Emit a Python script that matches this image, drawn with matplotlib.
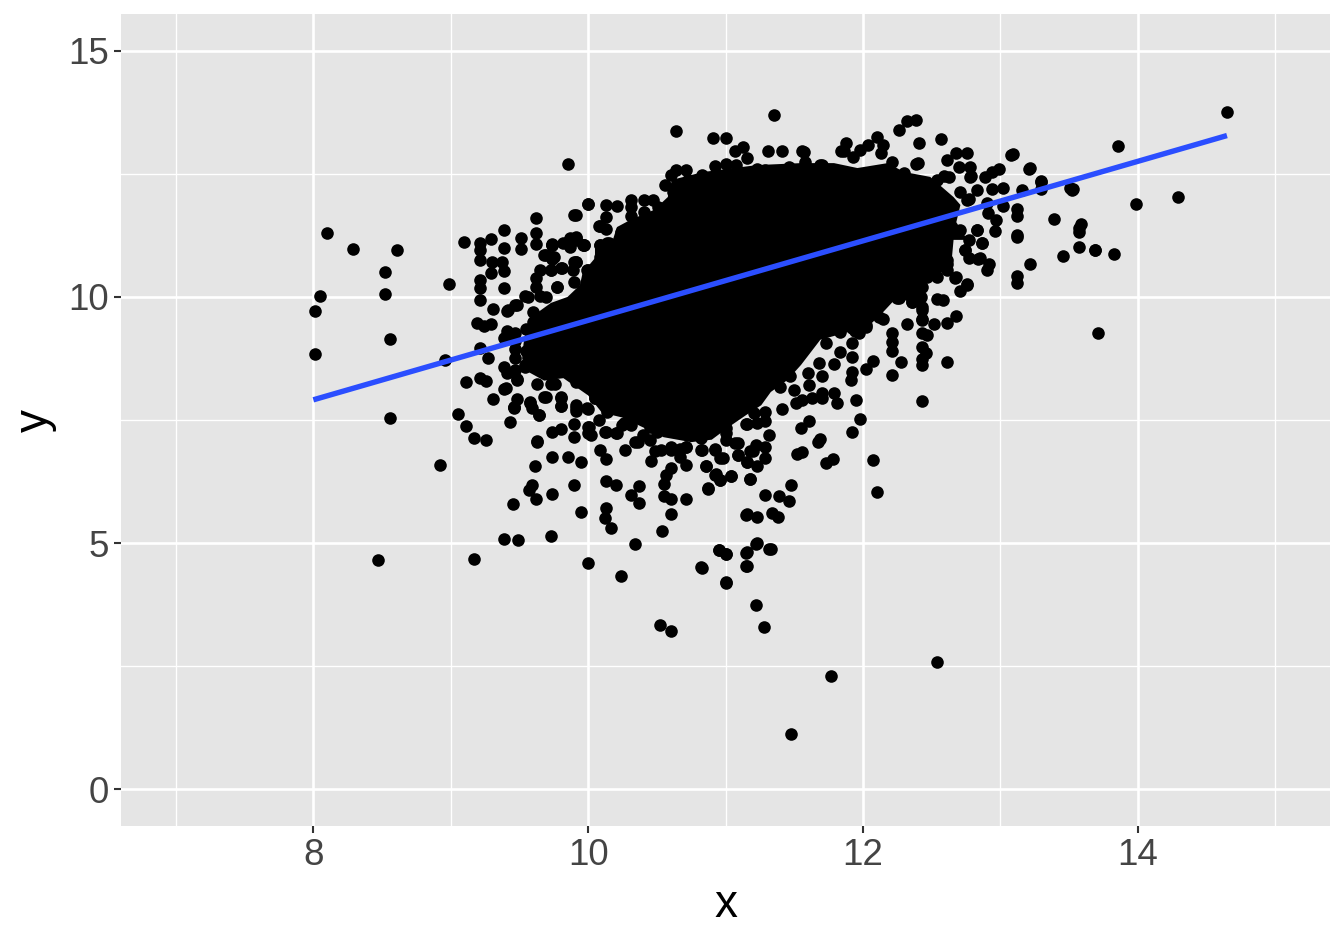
#!/usr/bin/env python3
"""Scatter of y against x with a fitted line, ggplot grey style"""

import matplotlib
matplotlib.use('Agg')
import matplotlib.pyplot as plt

plt.rcParams['font.family'] = ['Liberation Sans', 'DejaVu Sans']

# Overplotted centre of the cloud, read as its outline
core_x = [10.61, 10.84, 11.23, 11.55, 11.79, 11.96, 12.18, 12.30, 12.49, 12.66, 12.71, 12.68, 12.76, 12.66, 12.64, 12.47,
          12.42, 12.38, 12.25, 12.15, 12.03, 11.87, 11.69, 11.66, 11.55, 11.45, 11.33, 11.26, 11.15, 11.02, 10.90,
          10.75, 10.55, 10.40, 10.25, 10.10, 10.00, 9.82, 9.68, 9.55, 9.52, 9.53, 9.55,
          9.60, 9.73, 9.85, 9.94, 9.96, 10.05, 10.05, 10.18, 10.21, 10.31, 10.48, 10.58]
core_y = [12.38, 12.54, 12.68, 12.72, 12.72, 12.62, 12.72, 12.54, 12.44, 12.03, 11.87, 11.52, 11.16, 11.16, 10.55, 10.41,
          10.08, 9.85, 10.00, 9.70, 9.39, 9.27, 9.13, 9.02, 8.62, 8.31, 8.07, 7.80, 7.60, 7.35, 7.10,
          7.05, 7.15, 7.35, 7.55, 7.65, 8.00, 8.35, 8.30, 8.50, 8.75, 9.05, 9.35,
          9.62, 9.88, 10.00, 10.24, 10.49, 10.79, 11.10, 11.16, 11.42, 11.57, 11.77, 12.03]

# Separate points, left part of the cloud
left_x = [8.10, 8.29, 8.61, 8.52, 8.52, 8.05, 8.01, 8.56, 8.01, 8.96, 8.56, 8.99, 9.10, 9.21, 9.21, 9.21, 9.29,
          9.39, 9.39, 9.51, 9.51, 9.62, 9.62, 9.62, 9.30, 9.37, 9.29, 9.39, 9.21, 9.21, 9.39, 9.21, 9.31, 9.41,
          9.48, 9.19, 9.24, 9.29, 9.41, 9.39, 9.47, 9.21, 9.27, 9.39, 9.41, 9.47, 9.54, 9.11, 9.21, 9.26, 9.48,
          9.39, 9.31, 9.48, 9.46, 9.58, 9.59, 9.64, 9.05, 9.11, 9.43, 9.17, 9.26, 9.74, 9.80, 9.90, 9.90, 10.00,
          10.02, 9.63, 9.68, 9.80, 9.80, 9.91, 9.91, 9.99, 10.05, 9.74, 9.68, 9.75, 9.85, 9.91, 9.97, 9.90, 9.65,
          9.62, 9.62, 9.56, 9.69, 9.77, 9.90, 9.89, 10.00, 10.00, 9.90, 10.08, 9.74, 9.86, 9.91, 9.97, 9.74,
          9.91, 9.81, 9.73, 9.77, 9.54, 9.65, 9.47, 9.42, 9.60, 10.09, 10.14, 10.09]
left_y = [11.31, 10.97, 10.95, 10.50, 10.07, 10.02, 9.71, 9.14, 8.84, 8.72, 7.55, 10.26, 11.12, 11.10, 10.95,
          10.75, 11.18, 11.37, 11.00, 11.20, 10.97, 11.60, 11.31, 11.07, 10.72, 10.72, 10.49, 10.53, 10.34, 10.19,
          10.19, 9.94, 9.76, 9.72, 9.84, 9.48, 9.41, 9.45, 9.31, 9.16, 9.26, 8.96, 8.75, 8.58, 8.45, 8.52, 8.62,
          8.27, 8.35, 8.30, 8.31, 8.13, 7.93, 7.93, 7.76, 7.87, 7.74, 7.60, 7.62, 7.38, 7.46, 7.13, 7.09, 7.25,
          7.31, 7.42, 7.16, 7.36, 7.19, 7.08, 7.97, 7.97, 7.78, 7.80, 7.69, 7.74, 7.94, 11.08, 10.85, 10.82, 11.12,
          11.19, 11.06, 10.72, 10.55, 10.38, 10.21, 9.99, 10.00, 10.21, 10.31, 10.55, 10.55, 11.89, 11.67, 11.44,
          11.06, 11.12, 11.16, 11.06, 10.78, 10.72, 10.58, 10.55, 10.21, 10.01, 10.01, 9.84, 9.73, 9.70, 11.06, 11.09, 10.82]

# Underside of the cloud, where points just start to merge
under_x = [9.40, 9.46, 9.58, 9.64, 9.69, 9.80, 9.80, 9.91, 10.00, 10.05, 10.16, 10.14, 10.08, 10.01, 10.13, 10.20, 10.25,
           10.31, 10.34, 10.40, 9.48, 9.54, 9.63, 9.73, 9.76, 9.91, 10.00, 9.70, 9.41, 9.47, 9.47, 9.55, 9.60, 9.47, 9.55,
           9.60, 10.71, 10.60, 10.53, 10.82, 10.83, 10.62, 10.72, 10.55, 10.84, 10.89, 10.45, 10.50]
under_y = [8.15, 7.75, 7.84, 7.60, 7.97, 7.94, 7.78, 7.75, 7.73, 7.94, 7.92, 7.67, 7.50, 7.36, 7.26, 7.23, 7.40,
           7.40, 7.06, 7.20, 8.34, 8.58, 8.24, 8.24, 8.24, 8.28, 8.28, 8.55, 9.19, 8.95, 9.10, 9.35, 9.50, 8.75, 8.90,
           8.60, 6.96, 6.96, 6.89, 7.13, 6.89, 7.43, 7.33, 7.33, 7.33, 7.63, 7.35, 7.25]

# Lower tail
low_x = [9.46, 9.63, 9.74, 9.85, 9.95, 9.61, 10.09, 10.13, 10.27, 10.36, 10.45, 10.49, 10.46, 10.67, 10.71, 10.60,
         10.57, 10.55, 10.13, 10.20, 10.37, 10.31, 10.37, 10.55, 10.60, 10.71, 10.60, 10.54, 10.87, 10.86, 10.93,
         10.96, 11.04, 10.82, 10.92, 10.98, 11.09, 11.16, 11.07, 9.59, 9.57, 9.62, 9.74, 9.90, 9.45, 9.95, 10.13,
         10.12, 10.17, 9.73, 9.39, 9.49, 10.34, 9.17, 10.00, 10.24, 10.52, 10.60, 10.82, 10.95, 11.00, 11.15, 11.15,
         11.00, 11.15, 11.18, 11.15, 11.18, 10.00, 10.12, 10.21, 10.26, 10.60, 10.67, 10.71, 11.00, 8.47, 8.92,
         11.22, 11.28, 11.77, 12.54, 11.48, 11.22, 11.32]
low_y = [7.77, 7.06, 6.74, 6.75, 6.65, 6.56, 6.90, 6.70, 6.89, 7.06, 7.09, 6.88, 6.66, 6.75, 6.59, 6.52, 6.38,
         6.20, 6.26, 6.18, 6.16, 5.97, 5.81, 5.95, 5.90, 5.90, 5.58, 5.25, 6.10, 6.56, 6.40, 6.29, 6.36, 6.89, 6.90,
         6.72, 6.79, 6.65, 7.03, 6.18, 6.08, 5.89, 5.99, 6.18, 5.79, 5.64, 5.72, 5.50, 5.31, 5.15, 5.08, 5.06, 4.99,
         4.67, 4.59, 4.33, 3.34, 3.22, 4.51, 4.86, 4.77, 4.80, 4.53, 4.18, 5.57, 6.30, 7.42, 6.86, 7.23, 7.26, 7.23,
         7.43, 6.89, 6.92, 6.96, 7.23, 4.65, 6.58, 3.74, 3.29, 2.30, 2.58, 1.12, 4.98, 4.88]

# Lower right edge of the cloud
lowright_x = [11.92, 11.92, 11.83, 11.73, 11.79, 12.07, 12.02, 11.92, 11.91, 11.70, 12.21, 12.21, 12.28, 12.21, 12.43,
              12.46, 12.43, 12.43, 12.61, 12.43, 11.95, 11.79, 11.81, 11.70, 11.70, 11.63, 11.56, 11.51, 11.41, 11.61,
              11.50, 11.40, 11.68, 11.60, 11.47, 11.98, 11.92, 11.61, 11.55, 11.69, 11.67, 11.56, 11.52, 11.78, 11.73,
              12.07, 12.10, 11.29, 11.29, 11.16, 11.23, 11.32, 11.29, 11.22, 11.20, 11.29, 11.09, 11.00, 11.00, 11.00,
              10.92, 10.96, 11.09, 11.16, 11.23, 10.86, 10.92, 10.96, 11.04, 11.18, 10.87, 11.48, 11.29, 11.39, 11.46,
              11.34, 11.38, 11.16, 11.23, 11.23, 11.33, 11.16, 10.95, 11.00, 11.16, 10.83, 11.00, 11.09, 10.92, 10.88,
              11.18, 11.21]
lowright_y = [9.06, 8.79, 8.88, 9.06, 8.64, 8.70, 8.53, 8.47, 8.31, 8.40, 8.90, 9.09, 8.67, 8.42, 8.99, 8.87, 8.73,
              8.62, 8.68, 7.88, 7.91, 8.04, 7.85, 8.04, 7.94, 7.94, 7.91, 7.84, 7.72, 8.21, 8.11, 8.18, 8.65, 8.45, 8.39,
              7.53, 7.26, 7.48, 7.33, 7.11, 7.06, 6.84, 6.81, 6.70, 6.63, 6.69, 6.03, 7.67, 7.47, 7.41, 7.43, 7.20, 6.96,
              6.99, 6.87, 6.73, 7.03, 7.09, 7.57, 7.33, 6.92, 6.72, 6.79, 6.65, 6.57, 6.57, 6.38, 6.28, 6.36, 6.31, 6.11,
              6.18, 5.98, 5.96, 5.85, 5.62, 5.52, 5.58, 5.53, 5.00, 4.87, 4.81, 4.86, 4.77, 4.53, 4.50, 4.20, 7.77, 7.70,
              7.43, 7.84, 7.64]

# Top edge of the cloud
top_x = [9.85, 10.64, 10.91, 11.00, 11.35, 11.13, 11.07, 11.16, 11.31, 11.41, 11.56, 11.84, 10.00, 10.13, 10.21, 9.91,
         10.31, 10.31, 10.31, 10.41, 10.47, 10.51, 10.41, 10.13, 10.09, 10.13, 10.24, 9.74, 9.82, 9.87, 9.91, 9.96,
         9.87, 10.09, 10.15, 9.69, 9.74, 9.91, 9.80, 9.73, 10.56, 10.60, 10.64, 10.71, 10.73, 10.62, 10.83, 10.92,
         11.00, 11.08, 11.23, 11.29, 11.36, 11.46, 11.58, 11.70, 10.62, 9.99]
top_y = [12.71, 13.37, 13.24, 13.23, 13.69, 13.05, 12.97, 12.83, 12.97, 12.96, 12.96, 12.96, 11.89, 11.86, 11.85, 11.66,
         11.97, 11.82, 11.65, 11.97, 11.98, 11.83, 11.73, 11.62, 11.45, 11.39, 11.32, 11.05, 11.09, 11.19, 11.21, 11.05,
         11.02, 11.05, 11.09, 10.85, 10.82, 10.71, 10.58, 10.54, 12.27, 12.48, 12.58, 12.59, 12.37, 12.14, 12.48, 12.66,
         12.71, 12.68, 12.61, 12.58, 12.56, 12.64, 12.75, 12.68, 11.93, 10.54]

# Right part of the cloud and the far outliers
right_x = [12.39, 12.32, 12.26, 12.10, 11.88, 11.86, 11.93, 11.98, 12.04, 12.15, 12.13, 12.41, 12.57, 12.68, 12.61, 12.76,
           12.39, 12.21, 11.57, 11.69, 13.09, 13.22, 12.99, 12.94, 12.89, 12.94, 13.02, 12.78, 12.70, 12.63, 12.54, 12.78,
           12.83, 12.71, 12.77, 12.90, 13.02, 13.16, 13.30, 13.30, 13.53, 13.52, 13.12, 13.12, 13.39, 13.59, 13.57, 13.12,
           13.12, 13.57, 13.69, 13.46, 13.22, 13.12, 13.12, 12.97, 12.96, 12.87, 12.83, 12.91, 12.77, 12.74, 12.77, 12.84,
           12.92, 12.90, 12.76, 12.71, 12.67, 12.61, 12.54, 12.47, 12.34, 12.43, 12.42, 12.36, 12.54, 12.58, 12.25, 12.43,
           12.43, 12.15, 12.04, 12.32, 12.52, 12.61, 12.68, 12.21, 12.43, 12.47, 12.02, 11.96, 11.92, 11.83, 11.97, 13.71,
           14.65, 13.86, 14.29, 13.99, 13.83, 13.69, 13.57, 13.21, 13.08, 13.30, 13.51,
           12.30, 12.40, 12.59, 12.79, 12.76, 12.83, 12.87, 12.74, 12.85, 12.76, 12.68, 12.43, 12.36, 12.43, 12.12, 12.02,
           11.94, 12.26, 12.42, 12.49, 12.54, 12.61, 12.61, 12.71]
right_y = [13.59, 13.58, 13.40, 13.25, 13.13, 12.97, 12.85, 12.98, 13.09, 13.09, 12.92, 13.13, 13.22, 12.92, 12.78, 12.92,
           12.71, 12.75, 12.95, 12.68, 12.90, 12.62, 12.61, 12.54, 12.43, 12.20, 12.21, 12.64, 12.64, 12.44, 12.37, 12.44,
           12.17, 12.14, 11.99, 11.90, 11.85, 12.18, 12.36, 12.20, 12.20, 12.17, 11.78, 11.64, 11.59, 11.48, 11.32, 11.26,
           11.21, 11.02, 10.96, 10.83, 10.67, 10.43, 10.29, 11.57, 11.34, 11.10, 11.36, 11.70, 11.15, 10.95, 10.80, 10.78,
           10.68, 10.54, 10.26, 10.12, 10.38, 10.68, 10.41, 10.41, 10.38, 10.21, 10.00, 9.90, 9.96, 9.93, 9.97, 9.73,
           9.56, 9.56, 9.60, 9.46, 9.45, 9.47, 9.61, 9.26, 9.26, 9.22, 9.39, 9.56, 9.36, 9.29, 9.26, 9.26,
           13.76, 13.07, 12.03, 11.89, 10.87, 10.95, 11.40, 12.60, 12.89, 12.33, 12.22,
           12.51, 12.72, 12.45, 12.45, 11.97, 11.36, 11.10, 10.96, 10.79, 10.24, 10.41, 9.53, 9.90, 9.80, 9.60, 9.43,
           9.30, 9.97, 10.62, 10.82, 10.68, 10.75, 10.55, 11.36]

# Fitted line
fit_x = [8.0, 14.65]
fit_y = [7.91, 13.28]

x_ticks = [8, 10, 12, 14]
x_minor = [7, 9, 11, 13, 15]
y_ticks = [0, 5, 10, 15]
y_minor = [2.5, 7.5, 12.5]

fig = plt.figure(figsize=(13.44, 9.4), dpi=100)
ax = fig.add_axes([121 / 1344, 114 / 940, 1209 / 1344, 812 / 940])
ax.set_facecolor('#E5E5E5')
for side in ax.spines.values():
    side.set_visible(False)

ax.set_xlim(6.6, 15.4)
ax.set_ylim(-0.75, 15.75)
ax.set_xticks(x_ticks)
ax.set_yticks(y_ticks)
ax.set_xticks(x_minor, minor=True)
ax.set_yticks(y_minor, minor=True)
ax.set_axisbelow(True)
ax.grid(True, which='major', color='white', linewidth=1.9)
ax.grid(True, which='minor', color='white', linewidth=0.95)
ax.tick_params(which='minor', length=0)
ax.tick_params(which='major', length=5, width=1.5, color='#333333', labelcolor='#444444', labelsize=26.5, pad=3.5)

ax.fill(core_x, core_y, color='black', linewidth=0, zorder=2)
for xs, ys in [(left_x, left_y), (under_x, under_y), (low_x, low_y), (lowright_x, lowright_y), (top_x, top_y), (right_x, right_y)]:
    ax.scatter(xs, ys, s=82, color='black', linewidths=0, zorder=3)

ax.plot(fit_x, fit_y, color='#2B4EFF', linewidth=3.9, solid_capstyle='butt', zorder=4)

ax.set_xlabel('x', fontsize=33, labelpad=7)
ax.set_ylabel('y', fontsize=33, labelpad=8)

fig.savefig('out.png', dpi=100)
